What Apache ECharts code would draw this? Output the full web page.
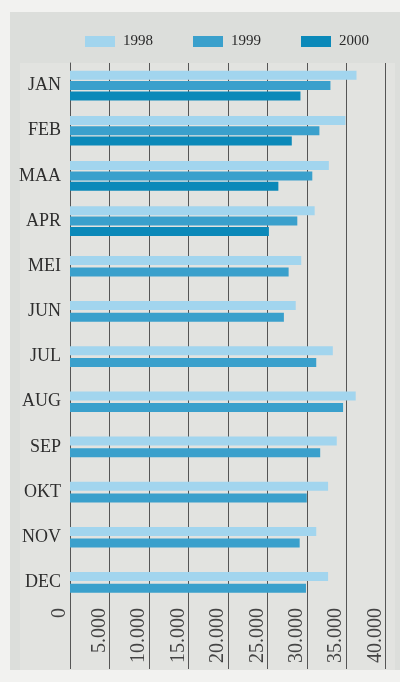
<!DOCTYPE html>
<html>
<head>
<meta charset="utf-8">
<script src="https://cdn.jsdelivr.net/npm/echarts@6/dist/echarts.min.js"></script>
<style>
html,body{margin:0;padding:0;background:#f2f2f0;}
#c{width:400px;height:682px;}
</style>
</head>
<body>
<div id="c"></div>
<script>
var months = ['JAN','FEB','MAA','APR','MEI','JUN','JUL','AUG','SEP','OKT','NOV','DEC'];
var v1998 = [36300, 34900, 32800, 31000, 29300, 28600, 33300, 36200, 33800, 32700, 31200, 32700];
var v1999 = [33000, 31600, 30700, 28800, 27700, 27100, 31200, 34600, 31700, 30000, 29100, 29900];
var v2000 = [29200, 28100, 26400, 25200];
var tickLabels = ['0','5.000','10.000','15.000','20.000','25.000','30.000','35.000','40.000'];
var seriesNames = ['1998','1999','2000'];
var colors = ['#a2d5ee','#3aa0cc','#0b89b9'];

var nFull = v2000.length; // months with three series
function part(arr, first) {
  return months.map(function (m, i) {
    var inFirst = i < nFull;
    if (inFirst !== first) return null;
    return arr[i] === undefined ? null : arr[i];
  });
}

var serifFont = '"Liberation Serif", "DejaVu Serif", serif';
var xMax = 40000, xStep = 5000;

var chart = echarts.init(document.getElementById('c'), null, {renderer: 'canvas'});
chart.setOption({
  backgroundColor: '#f2f2f0',
  animation: false,
  graphic: [
    {type: 'rect', z: -10, shape: {x: 10, y: 12, width: 390, height: 658}, style: {fill: '#dcdedb'}},
    {type: 'rect', z: -9, shape: {x: 20, y: 63, width: 375, height: 607}, style: {fill: '#e2e3e0'}}
  ],
  legend: {
    data: seriesNames,
    left: 80,
    top: 29,
    itemWidth: 30,
    itemHeight: 11,
    itemGap: 40,
    icon: 'rect',
    textStyle: {fontFamily: serifFont, fontSize: 15, color: '#2a2a2a', padding: [0, 0, 0, 3]}
  },
  grid: [
    {left: 70, right: 14.3, top: 63, bottom: 77},
    {left: 70, right: 14.3, top: 605, bottom: 13}
  ],
  xAxis: [
    {
      type: 'value', gridIndex: 0, min: 0, max: xMax, interval: xStep,
      axisLine: {show: false}, axisTick: {show: false},
      splitLine: {show: true, lineStyle: {color: '#555', width: 1}},
      axisLabel: {
        rotate: 90, margin: 3, verticalAlign: 'bottom',
        fontFamily: serifFont, fontSize: 20, color: '#444',
        formatter: function (v) { return tickLabels[Math.round(v / xStep)]; }
      }
    },
    {
      type: 'value', gridIndex: 1, min: 0, max: xMax, interval: xStep,
      axisLine: {show: false}, axisTick: {show: false}, axisLabel: {show: false},
      splitLine: {show: true, lineStyle: {color: '#555', width: 1}}
    }
  ],
  yAxis: [
    {
      type: 'category', gridIndex: 0, data: months, inverse: true,
      axisLine: {show: true, lineStyle: {color: '#555', width: 1}},
      axisTick: {show: false},
      axisLabel: {margin: 9, fontFamily: serifFont, fontSize: 18, color: '#2e2e2e', padding: [3, 0, 0, 0]}
    },
    {
      type: 'category', gridIndex: 0, data: months, inverse: true, show: false
    },
    {
      type: 'value', gridIndex: 1, show: false
    }
  ],
  series: [
    {name: '1998', type: 'bar', xAxisIndex: 0, yAxisIndex: 0, data: part(v1998, true), barWidth: 9, barGap: '15%', itemStyle: {color: colors[0]}},
    {name: '1999', type: 'bar', xAxisIndex: 0, yAxisIndex: 0, data: part(v1999, true), barWidth: 9, barGap: '15%', itemStyle: {color: colors[1]}},
    {name: '2000', type: 'bar', xAxisIndex: 0, yAxisIndex: 0, data: part(v2000, true), barWidth: 9, barGap: '15%', itemStyle: {color: colors[2]}},
    {name: '1998', type: 'bar', xAxisIndex: 0, yAxisIndex: 1, data: part(v1998, false), barWidth: 9, barGap: '30%', itemStyle: {color: colors[0]}},
    {name: '1999', type: 'bar', xAxisIndex: 0, yAxisIndex: 1, data: part(v1999, false), barWidth: 9, barGap: '30%', itemStyle: {color: colors[1]}}
  ]
});
</script>
</body>
</html>
